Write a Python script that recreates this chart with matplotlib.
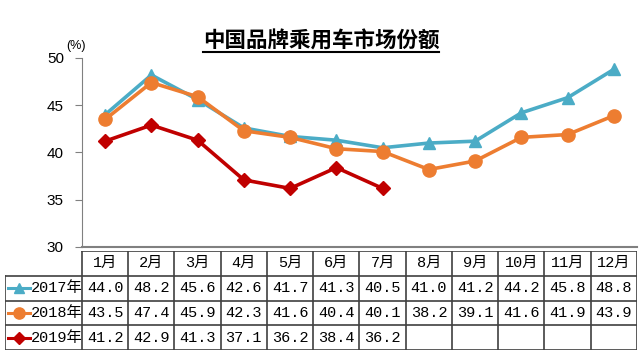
import numpy as np
import matplotlib.pyplot as plt
from matplotlib.lines import Line2D

plt.rcParams['font.family'] = ['Noto Sans CJK SC', 'DejaVu Sans']

months = ['1月', '2月', '3月', '4月', '5月', '6月', '7月', '8月', '9月', '10月', '11月', '12月']
labels = ['2017年', '2018年', '2019年']
s2017 = [44.0, 48.2, 45.6, 42.6, 41.7, 41.3, 40.5, 41.0, 41.2, 44.2, 45.8, 48.8]
s2018 = [43.5, 47.4, 45.9, 42.3, 41.6, 40.4, 40.1, 38.2, 39.1, 41.6, 41.9, 43.9]
s2019 = [41.2, 42.9, 41.3, 37.1, 36.2, 38.4, 36.2]

colors = ['#4BACC6', '#ED7D31', '#C00000']
markers = ['^', 'o', 'D']
msizes = [9, 9.5, 7.5]
series = [s2017, s2018, s2019]
tfont = ['Liberation Mono', 'Noto Sans CJK SC']

W, H = 640, 353
fig = plt.figure(figsize=(6.4, 3.53), dpi=100)

# main plot
ax = fig.add_axes([82 / W, (H - 247) / H, (637 - 82) / W, (247 - 58) / H])
for s, c, m, ms in zip(series, colors, markers, msizes):
    x = np.arange(len(s))
    ax.plot(x, s, color=c, lw=2.6, marker=m, ms=ms, zorder=3)
ax.set_xlim(-0.5, 11.5)
ax.set_ylim(30, 50)
ax.set_yticks([30, 35, 40, 45, 50])
ax.set_xticks([])
for sp in ['top', 'right']:
    ax.spines[sp].set_visible(False)
ax.spines['left'].set_color('#808080')
ax.spines['bottom'].set_color('#808080')
ax.spines['bottom'].set_linewidth(1.5)
ax.tick_params(axis='y', direction='out', length=5, color='#808080',
               labelsize=11, pad=8)
for t in ax.get_yticklabels():
    t.set_fontfamily(['Liberation Sans', 'DejaVu Sans'])
fig.text(66 / W, 1 - 46 / H, '(%)', fontsize=9, ha='left', va='center',
         family=['Liberation Sans'])

# title with underline
title = fig.text(321 / W, 1 - 41 / H, '中国品牌乘用车市场份额', fontsize=15.5,
                 fontweight='bold', ha='center', va='center')
fig.canvas.draw()
bb = title.get_window_extent().transformed(fig.transFigure.inverted())
fig.add_artist(Line2D([bb.x0, bb.x1], [bb.y0 - 0.002, bb.y0 - 0.002],
                      color='black', lw=1.5, transform=fig.transFigure))

# data table
lw_extra = 77 / 46.3
tx = fig.add_axes([5 / W, (H - 350) / H, (637 - 5) / W, (350 - 251) / H])
tx.set_xlim(-0.5 - lw_extra, 11.5)
tx.set_ylim(0, 4)
tx.axis('off')
gc = '#404040'
tx.plot([-0.5, 11.5], [4, 4], color=gc, lw=1.2)
for y in [0, 1, 2, 3]:
    tx.plot([-0.5 - lw_extra, 11.5], [y, y], color=gc, lw=1.2)
tx.plot([-0.5 - lw_extra, -0.5 - lw_extra], [0, 3], color=gc, lw=1.2)
for i in range(13):
    xv = i - 0.5
    tx.plot([xv, xv], [0, 4], color=gc, lw=1.2)

for i, m in enumerate(months):
    tx.text(i, 3.5, m, ha='center', va='center', fontsize=11, family=tfont)
for r, (s, lab, c, mk, ms) in enumerate(zip(series, labels, colors, markers, msizes)):
    yc = 2.5 - r
    for i, v in enumerate(s):
        tx.text(i, yc, f'{v:.1f}', ha='center', va='center', fontsize=11,
                family=tfont)
    x0 = -0.5 - lw_extra
    tx.plot([x0 + 0.06, x0 + 0.55], [yc, yc], color=c, lw=2.2)
    tx.plot([x0 + 0.305], [yc], color=c, marker=mk, ms=ms * 0.85)
    tx.text(x0 + 0.57, yc, lab, ha='left', va='center', fontsize=11,
            family=tfont)

fig.savefig('out.png', dpi=100)
